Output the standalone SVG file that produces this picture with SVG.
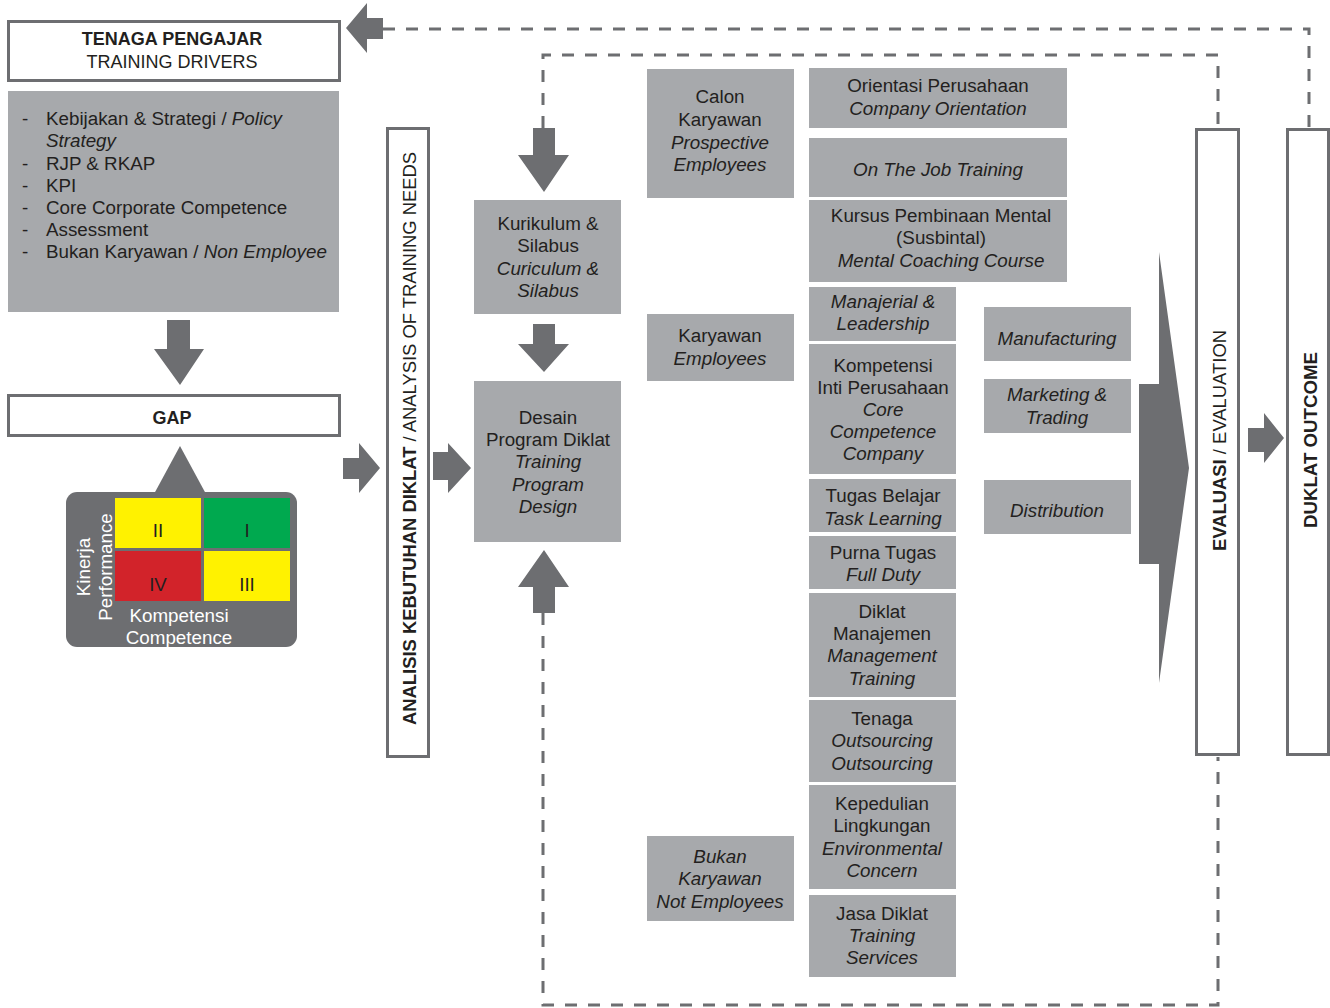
<svg xmlns="http://www.w3.org/2000/svg" width="1330" height="1008" viewBox="0 0 1330 1008">
  <style>
    text { font-family: "Liberation Sans", Arial, sans-serif; font-size: 18.8px; fill: #231f20; }
    .t { font-size: 18px; }
    .c { text-anchor: middle; }
    .i { font-style: italic; }
    .b { font-weight: bold; }
    .w { fill: #ffffff; }
    .box { fill: #a7a9ac; }
    .frame { fill: #ffffff; stroke: #6d6e71; stroke-width: 3; }
    .arrow { fill: #6d6e71; }
    .dash { fill: none; stroke: #6d6e71; stroke-width: 3; stroke-dasharray: 12 11; }
  </style>

  <!-- feedback loops and block arrows -->
  <g id="connectors">
    <path class="dash" d="M383 29 H1309 V128"/>
    <path class="dash" d="M543 128 V55 H1218 V128"/>
    <path class="dash" d="M543 613 V1005 H1218 V757"/>
    <!-- arrow into Tenaga Pengajar -->
    <polygon class="arrow" points="346,28 367,3 367,18 383,18 383,39 367,39 367,53"/>
    <!-- drivers to GAP -->
    <polygon class="arrow" points="167,320 190,320 190,349 204,349 180,385 154,349 167,349"/>
    <!-- matrix up to GAP -->
    <polygon class="arrow" points="180,446 206,494 154,494"/>
    <!-- into analysis -->
    <polygon class="arrow" points="343,458 359,458 359,443 380,468 359,493 359,479 343,479"/>
    <!-- analysis to design -->
    <polygon class="arrow" points="433,452 448,452 448,443 471,468 448,493 448,480 433,480"/>
    <!-- loop into curriculum -->
    <polygon class="arrow" points="533,128 555,128 555,155 569,155 544,192 518,155 533,155"/>
    <!-- curriculum to design -->
    <polygon class="arrow" points="533,324 555,324 555,344 569,344 544,372 518,344 533,344"/>
    <!-- loop up into design -->
    <polygon class="arrow" points="544,550 569,587 555,587 555,613 533,613 533,587 518,587"/>
    <!-- programs to evaluation -->
    <polygon class="arrow" points="1139,384 1159,384 1159,252 1189,468 1159,683 1159,564 1139,564"/>
    <!-- evaluation to outcome -->
    <polygon class="arrow" points="1248,428 1264,428 1264,413 1284,438 1264,463 1264,452 1248,452"/>
  </g>

  <g id="tenaga-pengajar">
    <rect class="frame" x="8.5" y="21.5" width="331" height="59"/>
    <text class="c b t" x="172" y="45">TENAGA PENGAJAR</text>
    <text class="c t" x="172" y="68">TRAINING DRIVERS</text>
  </g>

  <g id="drivers">
    <rect class="box" x="8" y="91" width="331" height="221"/>
    <text x="22" y="125">-</text><text x="46" y="125">Kebijakan &amp; Strategi / <tspan class="i">Policy</tspan></text>
    <text class="i" x="46" y="147">Strategy</text>
    <text x="22" y="170">-</text><text x="46" y="170">RJP &amp; RKAP</text>
    <text x="22" y="192">-</text><text x="46" y="192">KPI</text>
    <text x="22" y="214">-</text><text x="46" y="214">Core Corporate Competence</text>
    <text x="22" y="236">-</text><text x="46" y="236">Assessment</text>
    <text x="22" y="258">-</text><text x="46" y="258">Bukan Karyawan / <tspan class="i">Non Employee</tspan></text>
  </g>

  <g id="gap">
    <rect class="frame" x="8.5" y="395.5" width="331" height="40"/>
    <text class="c b t" x="172" y="424">GAP</text>
  </g>

  <g id="matrix">
    <rect x="66" y="492" width="231" height="155" rx="11" fill="#6d6e71"/>
    <rect x="115" y="498" width="86" height="50" fill="#fff200"/>
    <rect x="204" y="498" width="86" height="50" fill="#00a94f"/>
    <rect x="115" y="551" width="86" height="50" fill="#d2232a"/>
    <rect x="204" y="551" width="86" height="50" fill="#fff200"/>
    <text class="c" x="158" y="537" font-size="17">II</text>
    <text class="c" x="247" y="537" font-size="17">I</text>
    <text class="c" x="158" y="591" font-size="17">IV</text>
    <text class="c" x="247" y="591" font-size="17">III</text>
    <text class="c w" transform="translate(90 567) rotate(-90)">Kinerja</text>
    <text class="c w" transform="translate(111.5 567) rotate(-90)">Performance</text>
    <text class="c w" x="179" y="622">Kompetensi</text>
    <text class="c w" x="179" y="644">Competence</text>
  </g>

  <g id="analysis">
    <rect class="frame" x="387.5" y="128.5" width="41" height="628"/>
    <text class="c t" transform="translate(416 438.5) rotate(-90)" textLength="573" lengthAdjust="spacingAndGlyphs"><tspan class="b">ANALISIS KEBUTUHAN DIKLAT</tspan> / ANALYSIS OF TRAINING NEEDS</text>
  </g>

  <g id="curriculum">
    <rect class="box" x="474" y="200" width="147" height="114"/>
    <text class="c" x="548" y="230">Kurikulum &amp;</text>
    <text class="c" x="548" y="252">Silabus</text>
    <text class="c i" x="548" y="275">Curiculum &amp;</text>
    <text class="c i" x="548" y="297">Silabus</text>
  </g>

  <g id="design">
    <rect class="box" x="474" y="381" width="147" height="161"/>
    <text class="c" x="548" y="424">Desain</text>
    <text class="c" x="548" y="446">Program Diklat</text>
    <text class="c i" x="548" y="468">Training</text>
    <text class="c i" x="548" y="491">Program</text>
    <text class="c i" x="548" y="513">Design</text>
  </g>

  <g id="prospective">
    <rect class="box" x="647" y="69" width="147" height="129"/>
    <text class="c" x="720" y="103">Calon</text>
    <text class="c" x="720" y="126">Karyawan</text>
    <text class="c i" x="720" y="149">Prospective</text>
    <text class="c i" x="720" y="171">Employees</text>
  </g>

  <g id="employees">
    <rect class="box" x="647" y="314" width="147" height="67"/>
    <text class="c" x="720" y="342">Karyawan</text>
    <text class="c i" x="720" y="365">Employees</text>
  </g>

  <g id="not-employees">
    <rect class="box" x="647" y="836" width="147" height="85"/>
    <text class="c i" x="720" y="863">Bukan</text>
    <text class="c i" x="720" y="885">Karyawan</text>
    <text class="c i" x="720" y="908">Not Employees</text>
  </g>

  <g id="orientation">
    <rect class="box" x="809" y="68" width="258" height="60"/>
    <text class="c" x="938" y="92">Orientasi Perusahaan</text>
    <text class="c i" x="938" y="115">Company Orientation</text>
  </g>

  <g id="ojt">
    <rect class="box" x="809" y="138" width="258" height="59"/>
    <text class="c i" x="938" y="176">On The Job Training</text>
  </g>

  <g id="susbintal">
    <rect class="box" x="809" y="200" width="258" height="82"/>
    <text class="c" x="941" y="222">Kursus Pembinaan Mental</text>
    <text class="c" x="941" y="244">(Susbintal)</text>
    <text class="c i" x="941" y="267">Mental Coaching Course</text>
  </g>

  <g id="leadership">
    <rect class="box" x="809" y="287" width="147" height="54"/>
    <text class="c i" x="883" y="308">Manajerial &amp;</text>
    <text class="c i" x="883" y="330">Leadership</text>
  </g>

  <g id="core-competence">
    <rect class="box" x="809" y="344" width="147" height="130"/>
    <text class="c" x="883" y="372">Kompetensi</text>
    <text class="c" x="883" y="394">Inti Perusahaan</text>
    <text class="c i" x="883" y="416">Core</text>
    <text class="c i" x="883" y="438">Competence</text>
    <text class="c i" x="883" y="460">Company</text>
  </g>

  <g id="task-learning">
    <rect class="box" x="809" y="479" width="147" height="53"/>
    <text class="c" x="883" y="502">Tugas Belajar</text>
    <text class="c i" x="883" y="525">Task Learning</text>
  </g>

  <g id="full-duty">
    <rect class="box" x="809" y="536" width="147" height="53"/>
    <text class="c" x="883" y="559">Purna Tugas</text>
    <text class="c i" x="883" y="581">Full Duty</text>
  </g>

  <g id="management-training">
    <rect class="box" x="809" y="593" width="147" height="104"/>
    <text class="c" x="882" y="618">Diklat</text>
    <text class="c" x="882" y="640">Manajemen</text>
    <text class="c i" x="882" y="662">Management</text>
    <text class="c i" x="882" y="685">Training</text>
  </g>

  <g id="outsourcing">
    <rect class="box" x="809" y="700" width="147" height="82"/>
    <text class="c" x="882" y="725">Tenaga</text>
    <text class="c i" x="882" y="747">Outsourcing</text>
    <text class="c i" x="882" y="770">Outsourcing</text>
  </g>

  <g id="environmental">
    <rect class="box" x="809" y="785" width="147" height="104"/>
    <text class="c" x="882" y="810">Kepedulian</text>
    <text class="c" x="882" y="832">Lingkungan</text>
    <text class="c i" x="882" y="855">Environmental</text>
    <text class="c i" x="882" y="877">Concern</text>
  </g>

  <g id="training-services">
    <rect class="box" x="809" y="895" width="147" height="82"/>
    <text class="c" x="882" y="920">Jasa Diklat</text>
    <text class="c i" x="882" y="942">Training</text>
    <text class="c i" x="882" y="964">Services</text>
  </g>

  <g id="manufacturing">
    <rect class="box" x="984" y="307" width="147" height="54"/>
    <text class="c i" x="1057" y="345">Manufacturing</text>
  </g>

  <g id="marketing">
    <rect class="box" x="984" y="379" width="147" height="54"/>
    <text class="c i" x="1057" y="401">Marketing &amp;</text>
    <text class="c i" x="1057" y="424">Trading</text>
  </g>

  <g id="distribution">
    <rect class="box" x="984" y="480" width="147" height="54"/>
    <text class="c i" x="1057" y="517">Distribution</text>
  </g>

  <g id="evaluation">
    <rect class="frame" x="1196.5" y="129.5" width="42" height="625"/>
    <text class="c t" transform="translate(1226 440.5) rotate(-90)" textLength="221" lengthAdjust="spacingAndGlyphs"><tspan class="b">EVALUASI</tspan> / EVALUATION</text>
  </g>

  <g id="outcome">
    <rect class="frame" x="1287.5" y="129.5" width="41" height="625"/>
    <text class="c b t" transform="translate(1317 440) rotate(-90)" textLength="176" lengthAdjust="spacingAndGlyphs">DUKLAT OUTCOME</text>
  </g>
</svg>
